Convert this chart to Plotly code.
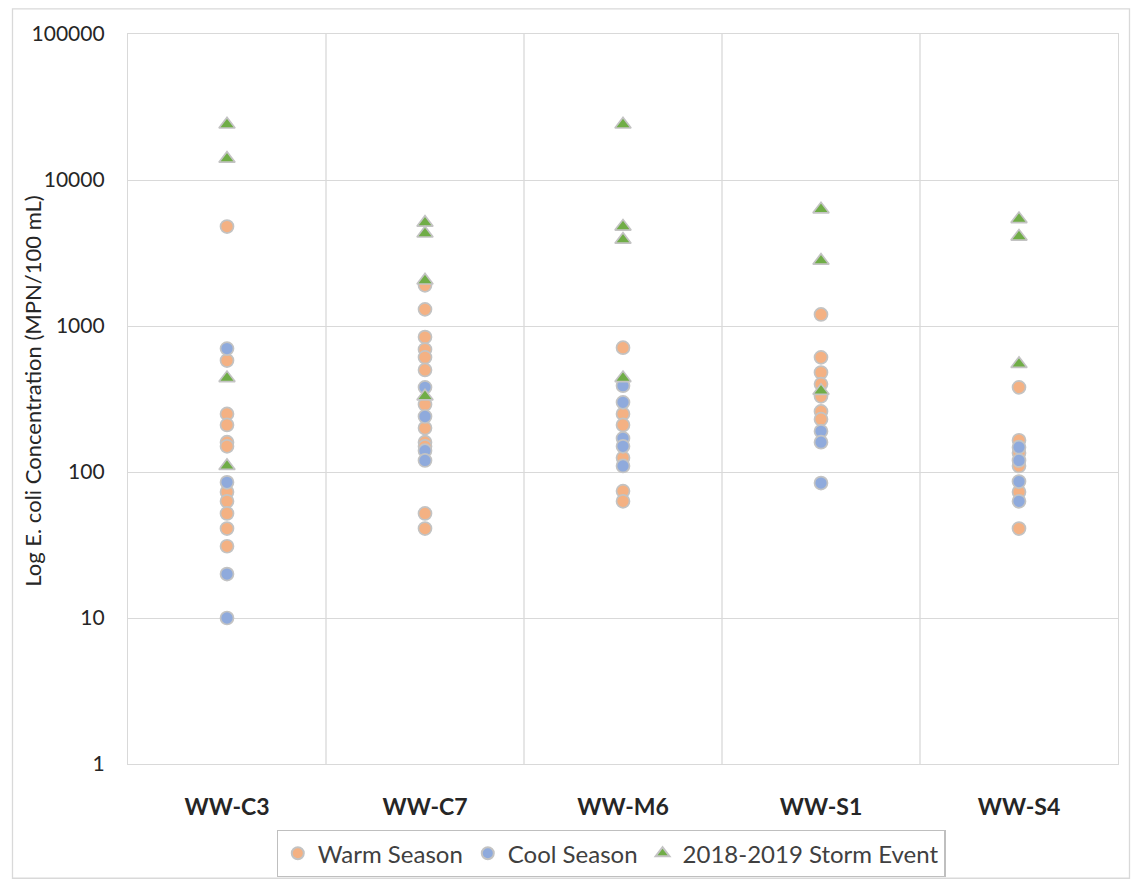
import plotly.graph_objects as go

# ---- data ----
categories = ["WW-C3", "WW-C7", "WW-M6", "WW-S1", "WW-S4"]

warm_c3 = [4800, 580, 250, 210, 160, 150, 73, 63, 52, 41, 31]
warm_c7 = [1900, 1300, 840, 690, 610, 500, 290, 200, 160, 150, 52, 41]
warm_m6 = [710, 250, 210, 125, 74, 63]
warm_s1 = [1200, 610, 480, 400, 330, 260, 230]
warm_s4 = [380, 165, 135, 110, 73, 41]

cool_c3 = [700, 85, 20, 10]
cool_c7 = [380, 240, 140, 120]
cool_m6 = [390, 300, 170, 150, 110]
cool_s1 = [190, 160, 84]
cool_s4 = [148, 120, 86, 63]

storm_c3 = [24000, 14000, 440, 110]
storm_c7 = [5100, 4300, 2050, 330]
storm_m6 = [24000, 4800, 3900, 440]
storm_s1 = [6300, 2800, 360]
storm_s4 = [5400, 4100, 550]

y_ticks = [1, 10, 100, 1000, 10000, 100000]
y_ticktext = ["1", "10", "100", "1000", "10000", "100000"]

warm = [warm_c3, warm_c7, warm_m6, warm_s1, warm_s4]
cool = [cool_c3, cool_c7, cool_m6, cool_s1, cool_s4]
storm = [storm_c3, storm_c7, storm_m6, storm_s1, storm_s4]


def flatten(groups):
    xs, ys = [], []
    for i, vals in enumerate(groups):
        for v in vals:
            xs.append(i)
            ys.append(v)
    return xs, ys


FONT = "Lato, 'Open Sans', sans-serif"
OUTLINE = dict(color="#c3c3c3", width=1.7)

fig = go.Figure()
x, y = flatten(warm)
fig.add_trace(go.Scatter(x=x, y=y, mode="markers", name="Warm Season",
                         marker=dict(symbol="circle", size=13, color="#F4B183", line=OUTLINE)))
x, y = flatten(cool)
fig.add_trace(go.Scatter(x=x, y=y, mode="markers", name="Cool Season",
                         marker=dict(symbol="circle", size=13, color="#8FAADC", line=OUTLINE)))
x, y = flatten(storm)
fig.add_trace(go.Scatter(x=x, y=y, mode="markers", name="2018-2019 Storm Event",
                         marker=dict(symbol="triangle-up", size=14, color="#70AD47", line=OUTLINE)))

# vertical design coordinates are expressed in reference pixels and stretched by K
K = 889 / 881
W, H = 1131, 889
L, R = 128, 13
T = round(34 * K)
B = H - round(765 * K)
pw, ph = W - L - R, H - T - B


def px_x(page_x):
    return (page_x - L) / pw


def px_y(page_y):
    return (H - B - page_y * K) / ph


shapes = []
for k in range(len(categories) - 1):
    shapes.append(dict(type="line", xref="x", yref="paper", x0=k + 0.5, x1=k + 0.5,
                       y0=0, y1=1, line=dict(color="#d9d9d9", width=1.3), layer="below"))
shapes.append(dict(type="rect", xref="paper", yref="paper",
                   x0=px_x(12.5), x1=px_x(1129.5), y0=px_y(879.5), y1=px_y(8.5),
                   line=dict(color="#d9d9d9", width=1.3), fillcolor="rgba(0,0,0,0)", layer="below"))

fig.update_layout(
    width=W, height=H,
    margin=dict(l=L, r=R, t=T, b=B, pad=0),
    paper_bgcolor="white", plot_bgcolor="white",
    font=dict(family=FONT, color="#404040"),
    showlegend=True,
    legend=dict(orientation="h", x=px_x(611), xanchor="center",
                y=px_y(831), yanchor="top",
                bordercolor="#bfbfbf", borderwidth=1.3,
                font=dict(size=24, color="#404040", family=FONT),
                itemsizing="constant", traceorder="normal"),
    shapes=shapes,
    annotations=[dict(text="Log E. coli Concentration (MPN/100 mL)", xref="paper", yref="paper",
                      x=px_x(33), y=px_y(392), textangle=-90, showarrow=False,
                      xanchor="center", yanchor="middle",
                      font=dict(size=22, color="#262626", family=FONT))],
)

fig.update_xaxes(range=[-0.5, len(categories) - 0.5], tickvals=list(range(len(categories))),
                 ticktext=categories, showgrid=False, zeroline=False,
                 showline=True, linecolor="#d9d9d9", linewidth=1.3, mirror=True,
                 ticks="", ticklabelstandoff=22,
                 tickfont=dict(size=23, color="#262626", family=FONT, weight="bold"))
fig.update_yaxes(type="log", range=[0, 5], tickvals=y_ticks, ticktext=y_ticktext,
                 showgrid=True, gridcolor="#d9d9d9", gridwidth=1.3, zeroline=False,
                 showline=True, linecolor="#d9d9d9", linewidth=1.3, mirror=True,
                 ticks="", ticklabelstandoff=18,
                 tickfont=dict(size=21, color="#262626", family=FONT))

fig.write_html("out.html", config={"displayModeBar": False},
               post_script="document.body.style.margin='0';document.body.style.overflow='hidden';")
